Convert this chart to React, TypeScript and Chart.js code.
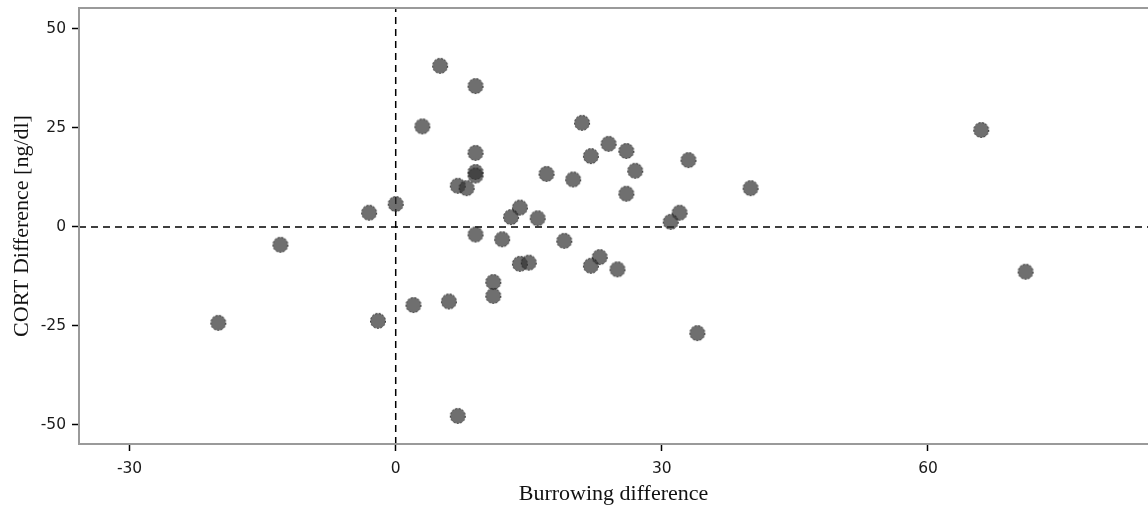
import React, { useEffect, useRef } from "react";
import { Chart, registerables } from "chart.js";

Chart.register(...registerables);

// Burrowing difference (x) and CORT difference (y) for each animal
const burrowingDiff = [
  5, 9, 3, 21, 9, 9, 9, 7, 8, 17, 20, 22, 24, 26, 27, 26, 33, 40, 0, 14, 13, 16,
  32, 31, 9, 12, 19, 23, -3, -13, -20, -2, 14, 15, 22, 25, 11, 11, 2, 6, 34, 7,
  66, 71,
];
const cortDiff = [
  40.7, 35.6, 25.4, 26.3, 18.7, 13.9, 13.0, 10.4, 9.8, 13.4, 12.0, 17.9, 21.0,
  19.2, 14.2, 8.4, 16.9, 9.8, 5.8, 4.9, 2.5, 2.2, 3.6, 1.3, -1.9, -3.1, -3.5,
  -7.6, 3.6, -4.5, -24.2, -23.7, -9.3, -9.0, -9.8, -10.7, -13.9, -17.4, -19.7,
  -18.8, -26.8, -47.7, 24.5, -11.3,
];

const xTicks = [-30, 0, 30, 60];
const yTicks = [-50, -25, 0, 25, 50];

const xRange = [-35.7, 84.8];
const yRange = [-54.8, 55.3];

const xTitle = "Burrowing difference";
const yTitle = "CORT Difference [ng/dl]";

// round marker with a translucent grey fill and a dotted dark rim
function makeMarker(): HTMLCanvasElement {
  const c = document.createElement("canvas");
  c.width = 18;
  c.height = 18;
  const ctx = c.getContext("2d")!;
  ctx.beginPath();
  ctx.arc(9, 9, 7.5, 0, Math.PI * 2);
  ctx.fillStyle = "rgba(50,50,50,0.7)";
  ctx.fill();
  ctx.setLineDash([2, 1.6]);
  ctx.lineWidth = 1;
  ctx.strokeStyle = "rgba(25,25,25,0.85)";
  ctx.stroke();
  return c;
}

const framePlugin = {
  id: "frame",
  afterDatasetsDraw(chart: any) {
    const { ctx, chartArea } = chart;
    const { left, right, top, bottom } = chartArea;
    ctx.save();
    ctx.strokeStyle = "#9a9a9a";
    ctx.lineWidth = 2;
    ctx.beginPath();
    ctx.moveTo(right, top);
    ctx.lineTo(left, top);
    ctx.lineTo(left, bottom);
    ctx.lineTo(right, bottom);
    ctx.stroke();
    ctx.restore();
  },
};

function noPadding(s: any) {
  s.paddingTop = 0;
  s.paddingBottom = 0;
  s.paddingLeft = 0;
  s.paddingRight = 0;
}

export default function App() {
  const ref = useRef<HTMLCanvasElement>(null);

  useEffect(() => {
    document.body.style.margin = "0";
    const points = burrowingDiff.map((x, i) => ({ x, y: cortDiff[i] }));
    const chart = new Chart(ref.current!, {
      type: "scatter",
      data: {
        datasets: [
          {
            data: points,
            pointStyle: makeMarker(),
            pointRadius: 8,
            order: 0,
          },
          {
            type: "line",
            data: [
              { x: 0, y: yRange[0] },
              { x: 0, y: yRange[1] },
            ],
            borderColor: "#000",
            borderWidth: 1.5,
            borderDash: [7, 5],
            pointRadius: 0,
            showLine: true,
            order: 1,
          },
          {
            type: "line",
            data: [
              { x: xRange[0], y: 0 },
              { x: xRange[1], y: 0 },
            ],
            borderColor: "#000",
            borderWidth: 1.5,
            borderDash: [7, 5],
            pointRadius: 0,
            showLine: true,
            order: 1,
          },
        ],
      },
      options: {
        animation: false,
        responsive: false,
        layout: { autoPadding: false, padding: { top: 8, left: 0, right: 0, bottom: 0 } },
        plugins: { legend: { display: false }, tooltip: { enabled: false } },
        scales: {
          x: {
            type: "linear",
            min: xRange[0],
            max: xRange[1],
            afterBuildTicks: (s: any) => {
              s.ticks = xTicks.map((v) => ({ value: v }));
            },
            afterFit: (s: any) => {
              s.height = 64;
              noPadding(s);
            },
            grid: {
              drawOnChartArea: false,
              drawTicks: true,
              tickLength: 7,
              tickColor: "#000",
              tickWidth: 1.5,
            },
            border: { display: false },
            ticks: {
              padding: 9,
              color: "#1a1a1a",
              font: { family: "DejaVu Sans", size: 15.5 },
            },
            title: {
              display: true,
              text: xTitle,
              color: "#111",
              font: { family: "Liberation Serif", size: 22 },
              padding: { top: 0, bottom: 1 },
            },
          },
          y: {
            type: "linear",
            min: yRange[0],
            max: yRange[1],
            afterBuildTicks: (s: any) => {
              s.ticks = yTicks.map((v) => ({ value: v }));
            },
            afterFit: (s: any) => {
              s.width = 79;
              noPadding(s);
            },
            grid: {
              drawOnChartArea: false,
              drawTicks: true,
              tickLength: 7,
              tickColor: "#000",
              tickWidth: 1.5,
            },
            border: { display: false },
            ticks: {
              padding: 6,
              color: "#1a1a1a",
              font: { family: "DejaVu Sans", size: 15.5 },
            },
            title: {
              display: true,
              text: yTitle,
              color: "#111",
              font: { family: "Liberation Serif", size: 22 },
              padding: { top: 9, bottom: 0 },
            },
          },
        },
      },
      plugins: [framePlugin],
    });
    return () => chart.destroy();
  }, []);

  return (
    <div style={{ position: "absolute", left: 0, top: 0, width: 1148, height: 508 }}>
      <canvas ref={ref} width={1148} height={508} style={{ display: "block" }} />
    </div>
  );
}
